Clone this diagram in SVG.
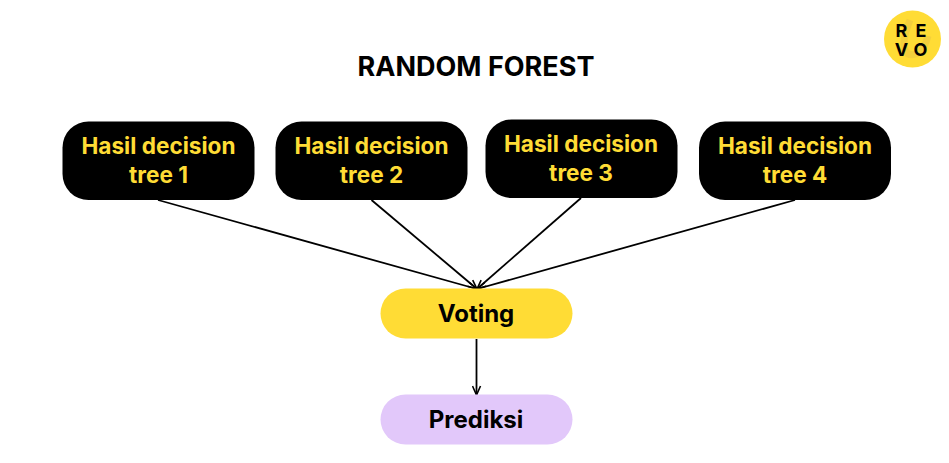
<svg xmlns="http://www.w3.org/2000/svg" width="949" height="463" viewBox="0 0 949 463">
<defs><marker id="a" markerWidth="12" markerHeight="10" refX="10" refY="5" orient="auto" markerUnits="userSpaceOnUse"><path d="M1 1L10 5L1 9" fill="none" stroke="#000" stroke-width="1.6"/></marker></defs>
<style>text{font-family:"Inter","Liberation Sans",sans-serif;font-weight:700;text-anchor:middle}
.d{fill:#000}.t{fill:#ffdc35;font-size:22.600px}.b{fill:#000;font-size:24px}
.c{stroke:#000;stroke-width:1.800;fill:none;marker-end:url(#a)}</style>
<rect width="949" height="463" fill="#fff"/>
<text x="476" y="75.500" font-size="27" fill="#000">RANDOM FOREST</text>
<g id="logo"><circle cx="912.500" cy="39" r="28.500" fill="#ffdc35"/><path d="M910 20C906 30 902 42 905 50C908 57 918 56 923 48C926 43 927 40 928 36" fill="none" stroke="#f3cf3c" stroke-width="7"/><g font-size="18" fill="#000"><text x="901.500" y="37">R</text><text x="921" y="37">E</text><text x="901.500" y="56">V</text><text x="920.500" y="56">O</text></g></g>
<g id="connectors"><path class="c" d="M158 200L477 289"/><path class="c" d="M371.500 200L477 289"/><path class="c" d="M581 198L477 289"/><path class="c" d="M795 200L477 289"/><path class="c" d="M476.500 339V395"/></g>
<g id="n1"><rect class="d" x="62.500" y="121.500" width="192" height="78.500" rx="26"/><text class="t" x="158.500" y="153.500">Hasil decision</text><text class="t" x="158.500" y="183">tree 1</text></g>
<g id="n2"><rect class="d" x="275.500" y="121.500" width="192" height="78.500" rx="26"/><text class="t" x="371.500" y="153.500">Hasil decision</text><text class="t" x="371.500" y="183">tree 2</text></g>
<g id="n3"><rect class="d" x="485.500" y="119.500" width="192" height="78.500" rx="26"/><text class="t" x="581" y="151.500">Hasil decision</text><text class="t" x="581" y="181">tree 3</text></g>
<g id="n4"><rect class="d" x="699" y="121.500" width="192" height="78.500" rx="26"/><text class="t" x="795" y="153.500">Hasil decision</text><text class="t" x="795" y="183">tree 4</text></g>
<g id="voting"><rect x="380.500" y="288.500" width="192" height="50" rx="25" fill="#ffdc35"/><text class="b" x="476" y="321.500">Voting</text></g>
<g id="prediksi"><rect x="380.500" y="394.500" width="192" height="50" rx="25" fill="#e2c8fa"/><text class="b" x="476" y="427.500">Prediksi</text></g>
</svg>
